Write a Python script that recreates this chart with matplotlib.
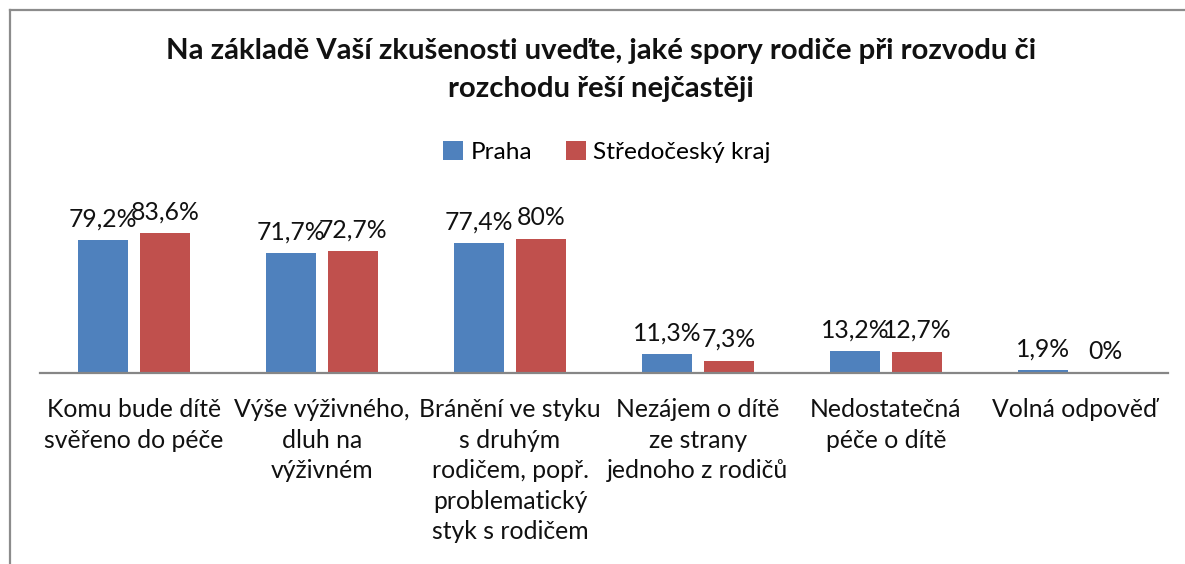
import matplotlib.pyplot as plt
import numpy as np
from matplotlib.lines import Line2D

plt.rcParams['font.family'] = ['Lato', 'DejaVu Sans']

# -----------------------------
# Data
# -----------------------------
categories = [
    "Komu bude dítě\nsvěřeno do péče",
    "Výše výživného,\ndluh na\nvýživném",
    "Bránění ve styku\ns druhým\nrodičem, popř.\nproblematický\nstyk s rodičem",
    "Nezájem o dítě\nze strany\njednoho z rodičů",
    "Nedostatečná\npéče o dítě",
    "Volná odpověď",
]
praha = [79.2, 71.7, 77.4, 11.3, 13.2, 1.9]
stredocesky = [83.6, 72.7, 80.0, 7.3, 12.7, 0.0]
series_names = ["Praha", "Středočeský kraj"]

blue = "#4F81BD"
red = "#C0504D"


def pct(v):
    s = f"{v:.1f}".replace(".", ",")
    if s.endswith(",0"):
        s = s[:-2]
    return s + "%"


# -----------------------------
# Plot
# -----------------------------
W, H = 1185, 564
fig = plt.figure(figsize=(W / 100, H / 100), dpi=100)
ax = fig.add_axes([40 / W, (H - 373) / H, 1128 / W, 167.5 / H])

x = np.arange(len(categories))
bw = 0.266
off = 0.165
b1 = ax.bar(x - off, praha, bw, color=blue, label=series_names[0])
b2 = ax.bar(x + off, stredocesky, bw, color=red, label=series_names[1])

for bars, vals in ((b1, praha), (b2, stredocesky)):
    for rect, v in zip(bars, vals):
        ax.annotate(pct(v), (rect.get_x() + rect.get_width() / 2, v),
                    xytext=(0, 7), textcoords="offset points",
                    ha="center", va="bottom", fontsize=17.8, color="#111111")

ax.set_xlim(-0.5, len(categories) - 0.5)
ax.set_ylim(0, 100)
ax.set_yticks([])
ax.set_xticks(x)
ax.set_xticklabels(categories, fontsize=17.8, linespacing=1.4, color="#111111")
ax.tick_params(axis="x", length=0, pad=18)
for s in ("top", "right", "left"):
    ax.spines[s].set_visible(False)
ax.spines["bottom"].set_color("#868686")
ax.spines["bottom"].set_linewidth(1.6)

fig.text(601 / W, 1 - 70 / H,
         "Na základě Vaší zkušenosti uveďte, jaké spory rodiče při rozvodu či\nrozchodu řeší nejčastěji",
         ha="center", va="center", fontsize=21.2, fontweight="bold",
         linespacing=1.55, color="#111111")

fig.legend(loc="center", bbox_to_anchor=(607 / W, 1 - 152 / H), ncol=2,
           frameon=False, fontsize=17.6, handlelength=0.8, handleheight=0.8,
           handletextpad=0.3, columnspacing=1.4)

# outer chart frame
fig.add_artist(Line2D([10 / W, 10 / W], [0, 1 - 10 / H], transform=fig.transFigure,
                      color="#8C8C8C", lw=1.6))
fig.add_artist(Line2D([10 / W, 1], [1 - 10 / H, 1 - 10 / H], transform=fig.transFigure,
                      color="#8C8C8C", lw=1.6))

plt.savefig("out.png", dpi=100)
